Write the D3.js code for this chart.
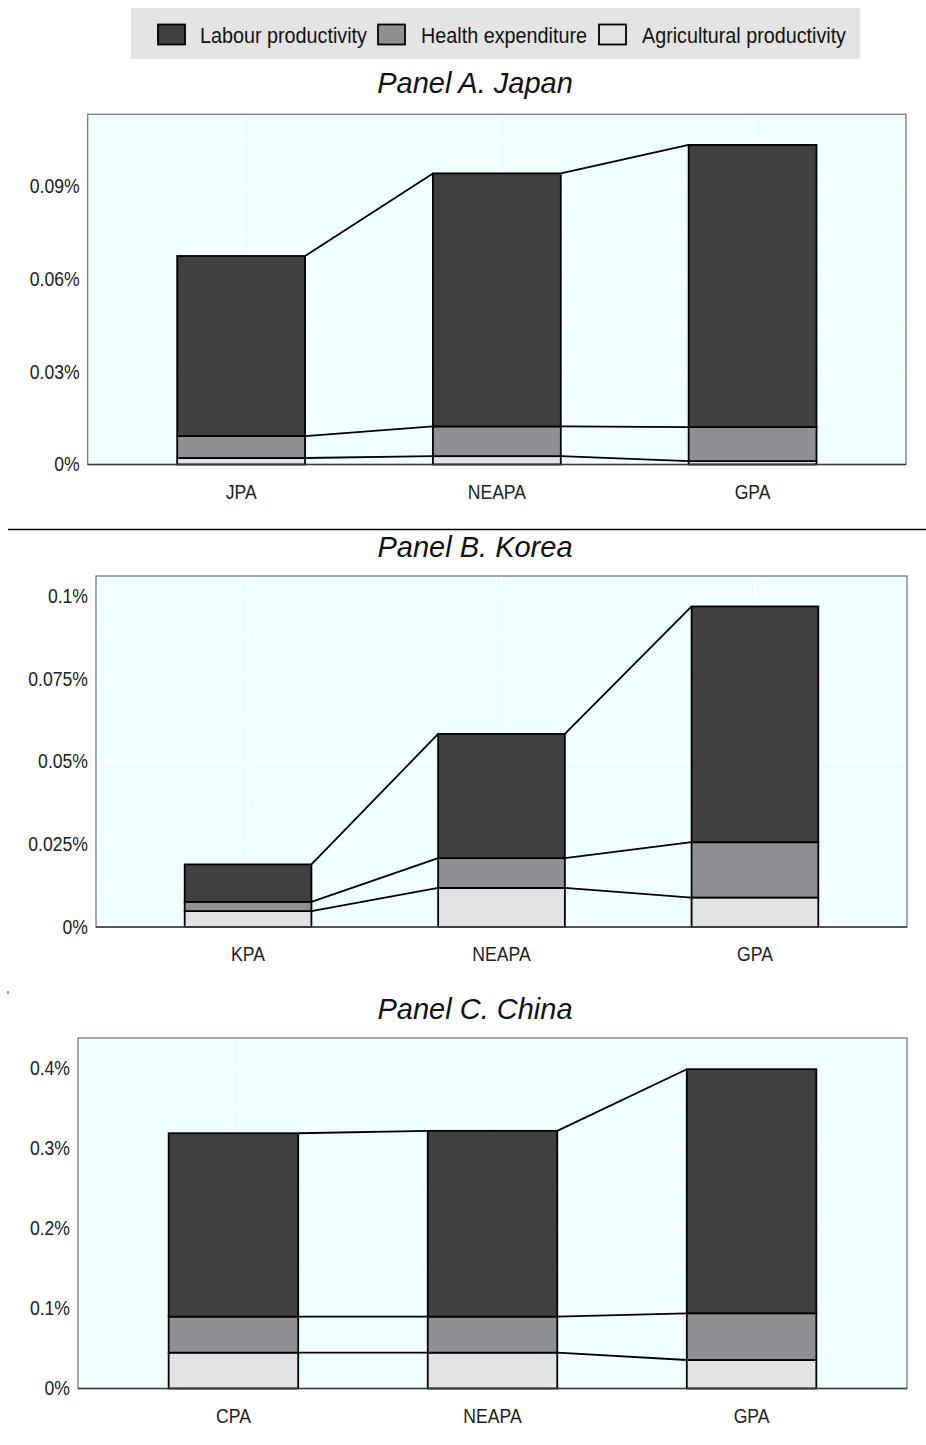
<!DOCTYPE html>
<html>
<head>
<meta charset="utf-8">
<script src="https://cdn.jsdelivr.net/npm/d3@7"></script>
<style>
  html, body { margin: 0; padding: 0; background: #ffffff; }
  svg { display: block; }
</style>
</head>
<body>
<div id="chart"></div>
<script>
// ---- Data (percentage points) ----
const seriesNames = ["Labour productivity", "Health expenditure", "Agricultural productivity"];

const categoriesA = ["JPA", "NEAPA", "GPA"];
const agriA   = [0.0021, 0.0027, 0.0011];
const healthA = [0.0071, 0.0096, 0.0110];
const labourA = [0.0582, 0.0818, 0.0912];
const ticksA  = [0, 0.03, 0.06, 0.09];
const tickLabelsA = ["0%", "0.03%", "0.06%", "0.09%"];
const yMaxA = 0.1132;

const categoriesB = ["KPA", "NEAPA", "GPA"];
const agriB   = [0.0048, 0.0118, 0.0089];
const healthB = [0.0028, 0.0090, 0.0167];
const labourB = [0.0113, 0.0375, 0.0712];
const ticksB  = [0, 0.025, 0.05, 0.075, 0.1];
const tickLabelsB = ["0%", "0.025%", "0.05%", "0.075%", "0.1%"];
const yMaxB = 0.106;

const categoriesC = ["CPA", "NEAPA", "GPA"];
const agriC   = [0.0448, 0.0448, 0.0356];
const healthC = [0.0450, 0.0450, 0.0584];
const labourC = [0.2292, 0.2322, 0.3050];
const ticksC  = [0, 0.1, 0.2, 0.3, 0.4];
const tickLabelsC = ["0%", "0.1%", "0.2%", "0.3%", "0.4%"];
const yMaxC = 0.438;

const panelTitles = ["Panel A. Japan", "Panel B. Korea", "Panel C. China"];

// ---- Styling ----
const W = 926, H = 1445;
const FONT = "'Liberation Sans', Arial, sans-serif";
const fills = {
  "Labour productivity": "#404040",
  "Health expenditure": "#8f9093",
  "Agricultural productivity": "#e2e3e5"
};
const panelBg = "#f0ffff";

// squeeze a text element horizontally to mimic a condensed face
function condense(sel, factor) {
  sel.each(function () {
    const w = this.getComputedTextLength();
    d3.select(this).attr("textLength", w * factor).attr("lengthAdjust", "spacingAndGlyphs");
  });
}

const svg = d3.select("#chart").append("svg")
  .attr("width", W).attr("height", H)
  .attr("viewBox", `0 0 ${W} ${H}`);

// ---- Legend ----
const legend = svg.append("g");
legend.append("rect")
  .attr("x", 131).attr("y", 8).attr("width", 729).attr("height", 51)
  .attr("fill", "#e4e4e4");
const legendItems = [
  { name: seriesNames[0], sx: 158, tx: 200, tw: 167 },
  { name: seriesNames[1], sx: 378, tx: 421, tw: 166 },
  { name: seriesNames[2], sx: 599, tx: 642, tw: 204 }
];
legendItems.forEach(d => {
  legend.append("rect")
    .attr("x", d.sx).attr("y", 24.5).attr("width", 27).attr("height", 20)
    .attr("fill", fills[d.name]).attr("stroke", "#000").attr("stroke-width", 1.8);
  legend.append("text")
    .attr("x", d.tx).attr("y", 42.5)
    .attr("font-family", FONT).attr("font-size", 22).attr("fill", "#111")
    .attr("textLength", d.tw).attr("lengthAdjust", "spacingAndGlyphs")
    .text(d.name);
});

// ---- Panels ----
const panels = [
  { title: panelTitles[0], titleY: 93, cats: categoriesA, agri: agriA, health: healthA, labour: labourA,
    ticks: ticksA, tickLabels: tickLabelsA, yMax: yMaxA, x0: 87.7, x1: 906, y0: 114.3, y1: 464.5 },
  { title: panelTitles[1], titleY: 557, cats: categoriesB, agri: agriB, health: healthB, labour: labourB,
    ticks: ticksB, tickLabels: tickLabelsB, yMax: yMaxB, x0: 96, x1: 907, y0: 576, y1: 927 },
  { title: panelTitles[2], titleY: 1019, cats: categoriesC, agri: agriC, health: healthC, labour: labourC,
    ticks: ticksC, tickLabels: tickLabelsC, yMax: yMaxC, x0: 78, x1: 907, y0: 1038, y1: 1388.5 }
];

panels.forEach(p => {
  const g = svg.append("g");

  const x = d3.scaleBand().domain(p.cats).range([p.x0, p.x1])
    .paddingInner(0.5).paddingOuter(0.35);
  const y = d3.scaleLinear().domain([0, p.yMax]).range([p.y1, p.y0]);

  // title
  g.append("text")
    .attr("x", 475).attr("y", p.titleY).attr("text-anchor", "middle")
    .attr("font-family", FONT).attr("font-style", "italic").attr("font-size", 29)
    .attr("fill", "#111").text(p.title);

  // panel background
  g.append("rect")
    .attr("x", p.x0).attr("y", p.y0).attr("width", p.x1 - p.x0).attr("height", p.y1 - p.y0)
    .attr("fill", panelBg);

  // grid: minor, major, vertical
  const step = p.ticks[1] - p.ticks[0];
  const minor = d3.range(step / 2, p.yMax, step);
  g.append("g").selectAll("line").data(minor).join("line")
    .attr("x1", p.x0).attr("x2", p.x1)
    .attr("y1", d => y(d)).attr("y2", d => y(d))
    .attr("stroke", "#ffffff").attr("stroke-width", 0.8);
  g.append("g").selectAll("line").data(p.ticks).join("line")
    .attr("x1", p.x0).attr("x2", p.x1)
    .attr("y1", d => y(d)).attr("y2", d => y(d))
    .attr("stroke", "#ffffff").attr("stroke-width", 1.4);
  g.append("g").selectAll("line").data(p.cats).join("line")
    .attr("x1", d => x(d) + x.bandwidth() / 2).attr("x2", d => x(d) + x.bandwidth() / 2)
    .attr("y1", p.y0).attr("y2", p.y1)
    .attr("stroke", "#ffffff").attr("stroke-width", 1.4);

  // stacked data
  const rows = p.cats.map((c, i) => ({
    cat: c,
    "Agricultural productivity": p.agri[i],
    "Health expenditure": p.health[i],
    "Labour productivity": p.labour[i]
  }));
  const stack = d3.stack().keys(["Agricultural productivity", "Health expenditure", "Labour productivity"]);
  const layers = stack(rows);

  // connectors between adjacent bars at each cumulative level
  layers.forEach(layer => {
    for (let i = 0; i < layer.length - 1; i++) {
      const a = layer[i], b = layer[i + 1];
      g.append("line")
        .attr("x1", x(a.data.cat) + x.bandwidth()).attr("y1", y(a[1]))
        .attr("x2", x(b.data.cat)).attr("y2", y(b[1]))
        .attr("stroke", "#000").attr("stroke-width", 1.8);
    }
  });

  // bars
  layers.forEach(layer => {
    g.append("g").selectAll("rect").data(layer).join("rect")
      .attr("x", d => x(d.data.cat))
      .attr("y", d => y(d[1]))
      .attr("width", x.bandwidth())
      .attr("height", d => y(d[0]) - y(d[1]))
      .attr("fill", fills[layer.key])
      .attr("stroke", "#000").attr("stroke-width", 1.8);
  });

  // panel border and baseline
  g.append("rect")
    .attr("x", p.x0).attr("y", p.y0).attr("width", p.x1 - p.x0).attr("height", p.y1 - p.y0)
    .attr("fill", "none").attr("stroke", "#6e6e6e").attr("stroke-width", 1.2);
  g.append("line")
    .attr("x1", p.x0).attr("x2", p.x1).attr("y1", p.y1).attr("y2", p.y1)
    .attr("stroke", "#3a3a3a").attr("stroke-width", 1.6);

  // y axis labels
  const yAxis = d3.axisLeft(y).tickValues(p.ticks)
    .tickFormat((d, i) => p.tickLabels[i]).tickSize(0).tickPadding(8);
  const ya = g.append("g").attr("transform", `translate(${p.x0},0)`).call(yAxis);
  ya.select(".domain").remove();
  ya.selectAll("text").attr("font-family", FONT).attr("font-size", 20).attr("fill", "#222")
    .call(condense, 0.88);

  // x axis labels
  const xAxis = d3.axisBottom(x).tickSize(0).tickPadding(20);
  const xa = g.append("g").attr("transform", `translate(0,${p.y1})`).call(xAxis);
  xa.select(".domain").remove();
  xa.selectAll("text").attr("font-family", FONT).attr("font-size", 20).attr("fill", "#222")
    .call(condense, 0.88);
});

// separator between panels A and B
svg.append("line")
  .attr("x1", 8).attr("x2", W).attr("y1", 529.5).attr("y2", 529.5)
  .attr("stroke", "#000").attr("stroke-width", 1.3);
// small stray mark at the left margin
svg.append("rect").attr("x", 7.5).attr("y", 991).attr("width", 1).attr("height", 3).attr("fill", "#333");
</script>
</body>
</html>
